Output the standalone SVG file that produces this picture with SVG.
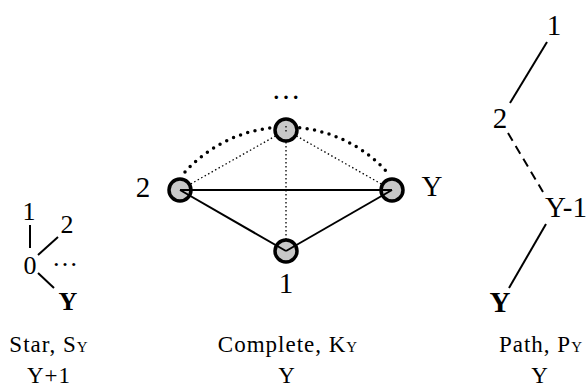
<svg xmlns="http://www.w3.org/2000/svg" width="588" height="390" viewBox="0 0 588 390">
<style>
text{font-family:'Liberation Serif','DejaVu Serif',serif;fill:#000}
.lbl{font-size:29px;text-anchor:middle}
.slbl{font-size:26px;text-anchor:middle}
.cap{font-size:23px;text-anchor:middle;letter-spacing:1px}
.sub{font-size:15px}
.b{font-weight:bold}
.solid{stroke:#000;stroke-width:2;fill:none}
.thin{stroke:#000;stroke-width:1.3;stroke-dasharray:1.5 2.5;fill:none}
.thick{stroke:#000;stroke-width:3.5;stroke-dasharray:0 7.5;stroke-linecap:round;fill:none}
.dash{stroke:#000;stroke-width:2;stroke-dasharray:9 6;fill:none}
.node{fill:#c8c8c8;stroke:#000;stroke-width:3.5}
</style>
<rect width="588" height="390" fill="#fff"/>
<g id="connectors">
  <line class="solid" x1="30" y1="225" x2="30" y2="248"/>
  <line class="solid" x1="38" y1="255" x2="58" y2="237"/>
  <line class="solid" x1="38" y1="273" x2="54" y2="288"/>
  <path class="thick" d="M185,172 A136,136 0 0 1 387,172"/>
  <line class="thin" x1="286" y1="130" x2="180" y2="190"/>
  <line class="thin" x1="286" y1="130" x2="392" y2="190"/>
  <line class="thin" x1="286" y1="130" x2="286" y2="251"/>
  <line class="solid" x1="547" y1="42" x2="510" y2="103"/>
  <line class="dash" x1="508" y1="133" x2="543" y2="192"/>
  <line class="solid" x1="546" y1="224" x2="509" y2="288"/>
</g>
<g id="star">
  <text class="slbl" x="29" y="220">1</text>
  <text class="slbl" x="67" y="233">2</text>
  <text class="slbl" x="30" y="274">0</text>
  <text class="slbl" x="65" y="266">…</text>
  <text class="slbl b" x="68" y="310">Y</text>
  <text class="cap" x="49" y="352">Star, S<tspan class="sub">Y</tspan></text>
  <text class="cap" x="49" y="383">Y+1</text>
</g>
<g id="complete">
  <g id="k-top"><circle class="node" cx="286" cy="130" r="11"/></g>
  <g id="k-2"><circle class="node" cx="180" cy="190" r="11"/></g>
  <g id="k-Y"><circle class="node" cx="392" cy="190" r="11"/></g>
  <g id="k-1"><circle class="node" cx="286" cy="251" r="11"/></g>
  <line class="solid" x1="180" y1="190" x2="392" y2="190"/>
  <line class="solid" x1="180" y1="190" x2="286" y2="251"/>
  <line class="solid" x1="392" y1="190" x2="286" y2="251"/>
  <line class="thin" x1="286" y1="126" x2="286" y2="134"/>
  <text class="lbl" x="286" y="99">…</text>
  <text class="lbl" x="143" y="197">2</text>
  <text class="lbl" x="432" y="196">Y</text>
  <text class="lbl" x="286" y="293">1</text>
  <text class="cap" x="288" y="352" letter-spacing="2">Complete, K<tspan class="sub">Y</tspan></text>
  <text class="cap" x="287" y="383">Y</text>
</g>
<g id="path">
  <text class="lbl" x="554" y="35">1</text>
  <text class="lbl" x="500" y="128">2</text>
  <text class="lbl" x="566" y="217">Y-1</text>
  <text class="lbl b" x="500" y="312">Y</text>
  <text class="cap" x="541" y="352">Path, P<tspan class="sub">Y</tspan></text>
  <text class="cap" x="540" y="383">Y</text>
</g>
</svg>
